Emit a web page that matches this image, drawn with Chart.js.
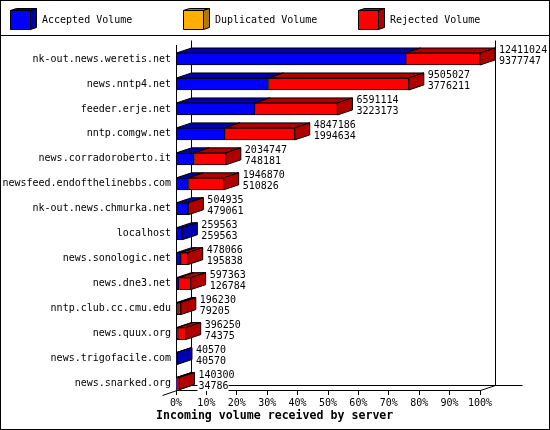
<!DOCTYPE html>
<html>
<head>
<meta charset="utf-8">
<script src="https://cdn.jsdelivr.net/npm/chart.js@4.4.1/dist/chart.umd.min.js"></script>
<style>
  html, body { margin: 0; padding: 0; background: #fff; }
  canvas { display: block; }
</style>
</head>
<body>
<canvas id="volumeChart" width="550" height="430"></canvas>
<script>
// ==========================================================================
// Incoming volume received by server — 3D stacked horizontal bars
// ==========================================================================

const hosts = [
  'nk-out.news.weretis.net', 'news.nntp4.net', 'feeder.erje.net', 'nntp.comgw.net',
  'news.corradoroberto.it', 'newsfeed.endofthelinebbs.com', 'nk-out.news.chmurka.net',
  'localhost', 'news.sonologic.net', 'news.dne3.net', 'nntp.club.cc.cmu.edu',
  'news.quux.org', 'news.trigofacile.com', 'news.snarked.org',
];
const totalVolume = [12411024, 9505027, 6591114, 4847186, 2034747, 1946870, 504935,
  259563, 478066, 597363, 196230, 396250, 40570, 140300];
const acceptedVolume = [9377747, 3776211, 3223173, 1994634, 748181, 510826, 479061,
  259563, 195838, 126784, 79205, 74375, 40570, 34786];
const duplicatedVolume = [0, 0, 0, 0, 0, 0, 0, 0, 0, 0, 0, 0, 0, 0];
const percentTicks = [0, 10, 20, 30, 40, 50, 60, 70, 80, 90, 100];

const FONT = '"DejaVu Sans Mono", "Liberation Mono", monospace';
const DEPTH = { dx: 15, dy: 5 };

// bars are scaled against the busiest server (= 100%)
const maxTotal = Math.max(...totalVolume);
const pct = (v) => v / maxTotal * 100;
const rejectedVolume = totalVolume.map((t, i) => t - acceptedVolume[i] - duplicatedVolume[i]);

const series = [
  { label: 'Accepted Volume',   values: acceptedVolume,   front: '#0000ff', dark: '#0000b0' },
  { label: 'Duplicated Volume', values: duplicatedVolume, front: '#ffb000', dark: '#b07800' },
  { label: 'Rejected Volume',   values: rejectedVolume,   front: '#ff0000', dark: '#b00000' },
];

function poly(ctx, pts, fill) {
  ctx.beginPath();
  ctx.moveTo(pts[0][0], pts[0][1]);
  for (let k = 1; k < pts.length; k++) ctx.lineTo(pts[k][0], pts[k][1]);
  ctx.closePath();
  ctx.fillStyle = fill;
  ctx.fill();
  ctx.stroke();
}

function line(ctx, x0, y0, x1, y1) {
  ctx.beginPath();
  ctx.moveTo(x0, y0);
  ctx.lineTo(x1, y1);
  ctx.stroke();
}

const frame3d = {
  id: 'frame3d',
  beforeDraw(chart) {
    const { ctx, width, height } = chart;
    ctx.save();
    ctx.fillStyle = '#fff';
    ctx.fillRect(0, 0, width, height);
    ctx.strokeStyle = '#000';
    ctx.lineWidth = 1;
    ctx.strokeRect(0.5, 0.5, width - 1, height - 1);
    line(ctx, 0, 35.5, width, 35.5);
    ctx.restore();
  },
  beforeDatasetsDraw(chart) {
    // back wall + floor edges
    const { ctx, chartArea: a } = chart;
    const L = Math.round(a.left) + 0.5, R = Math.round(a.right) + 0.5;
    const T = Math.round(a.top) + 0.5, B = Math.round(a.bottom) + 0.5;
    ctx.save();
    ctx.strokeStyle = '#000';
    ctx.lineWidth = 1;
    line(ctx, L + DEPTH.dx, T - DEPTH.dy, L + DEPTH.dx, B - DEPTH.dy);
    line(ctx, R + DEPTH.dx, T - DEPTH.dy, R + DEPTH.dx, B - DEPTH.dy);
    line(ctx, L + DEPTH.dx, B - DEPTH.dy, R + DEPTH.dx + 27, B - DEPTH.dy);
    line(ctx, L - 14, B + 5, L + DEPTH.dx, B - DEPTH.dy);
    line(ctx, R, B, R + DEPTH.dx, B - DEPTH.dy);
    ctx.restore();
  },
  afterDatasetsDraw(chart) {
    const { ctx } = chart;
    const metas = chart.getSortedVisibleDatasetMetas();
    ctx.save();
    ctx.strokeStyle = '#000';
    ctx.lineWidth = 1;
    ctx.lineJoin = 'miter';
    hosts.forEach((host, i) => {
      let end = null, endDark = null, top = 0, bottom = 0, cy = 0;
      metas.forEach((meta) => {
        const el = meta.data[i];
        const p = el.getProps(['x', 'y', 'base', 'height'], true);
        const x0 = Math.min(p.base, p.x), x1 = Math.max(p.base, p.x);
        top = p.y - p.height / 2; bottom = p.y + p.height / 2; cy = p.y;
        if (x1 - x0 < 0.05) return;
        const dark = series[meta.index].dark;
        poly(ctx, [[x0, top], [x1, top], [x1 + DEPTH.dx, top - DEPTH.dy], [x0 + DEPTH.dx, top - DEPTH.dy]], dark);
        end = x1; endDark = dark;
      });
      if (end === null) return;
      poly(ctx, [[end, top], [end + DEPTH.dx, top - DEPTH.dy], [end + DEPTH.dx, bottom - DEPTH.dy], [end, bottom]], endDark);

      // value labels: total over accepted
      ctx.font = '10px ' + FONT;
      ctx.textBaseline = 'middle';
      ctx.textAlign = 'left';
      const tx = end + DEPTH.dx + 4;
      [[String(totalVolume[i]), cy - 8.5], [String(acceptedVolume[i]), cy + 2.5]].forEach(([txt, ty]) => {
        const w = ctx.measureText(txt).width;
        ctx.fillStyle = '#fff';
        ctx.fillRect(tx - 1, ty - 5, w + 1, 10);
        ctx.fillStyle = '#000';
        ctx.fillText(txt, tx, ty);
      });
    });
    ctx.restore();
  },
  afterDraw(chart) {
    const { ctx } = chart;
    ctx.save();
    ctx.strokeStyle = '#000';
    ctx.lineWidth = 1;
    // legend with little cubes
    const legendX = [10, 183, 358];
    chart.data.datasets.forEach((ds, k) => {
      const x = legendX[k] + 0.5, y = 10.5;
      const w = 20, h = 19, dx = 6, dy = 2;
      poly(ctx, [[x, y], [x + w, y], [x + w + dx, y - dy], [x + dx, y - dy]], series[k].dark);
      poly(ctx, [[x + w, y], [x + w + dx, y - dy], [x + w + dx, y + h - dy], [x + w, y + h]], series[k].dark);
      poly(ctx, [[x, y], [x + w, y], [x + w, y + h], [x, y + h]], series[k].front);
      ctx.fillStyle = '#000';
      ctx.font = '10px ' + FONT;
      ctx.textBaseline = 'middle';
      ctx.textAlign = 'left';
      ctx.fillText(ds.label, legendX[k] + 32, 20);
    });
    // axis caption
    ctx.font = 'bold 11.6px ' + FONT;
    ctx.fillText('Incoming volume received by server', 156, 416);
    ctx.restore();
  },
};

document.addEventListener('DOMContentLoaded', () => {
  Chart.defaults.color = '#000';
  Chart.defaults.font.family = FONT;
  Chart.defaults.font.size = 10;

  new Chart(document.getElementById('volumeChart'), {
    type: 'bar',
    data: {
      datasets: series.map((s) => ({
        label: s.label,
        data: s.values.map((v, i) => ({ x: pct(v), y: i })),
        backgroundColor: s.front,
        borderColor: '#000',
        borderWidth: s.values.some((v) => v > 0) ? 1 : 0,
        borderSkipped: false,
        barThickness: 12,
        stack: 'vol',
      })),
    },
    options: {
      indexAxis: 'y',
      responsive: false,
      animation: false,
      devicePixelRatio: 1,
      layout: { padding: { top: 45, right: 70, left: 0, bottom: 0 } },
      plugins: { legend: { display: false }, tooltip: { enabled: false }, title: { display: false } },
      scales: {
        x: {
          type: 'linear',
          stacked: true,
          min: 0,
          max: 100,
          afterFit: (s) => { s.height = 40; },
          afterBuildTicks: (s) => { s.ticks = percentTicks.map((v) => ({ value: v })); },
          ticks: { callback: (v) => v + '%', padding: 2, maxRotation: 0, autoSkip: false },
          grid: { drawOnChartArea: false, drawTicks: true, tickLength: 5, color: '#000' },
          border: { display: true, color: '#000' },
        },
        y: {
          type: 'linear',
          reverse: true,
          offset: false,
          bounds: 'data',
          min: -0.561,
          max: 13.261,
          afterFit: (s) => { s.width = 176; },
          afterBuildTicks: (s) => { s.ticks = hosts.map((_, i) => ({ value: i })); },
          ticks: { callback: (v) => hosts[v], padding: 5, autoSkip: false },
          grid: { display: false, drawTicks: false, offset: false },
          border: { display: true, color: '#000' },
        },
      },
    },
    plugins: [frame3d],
  });
});
</script>
</body>
</html>
